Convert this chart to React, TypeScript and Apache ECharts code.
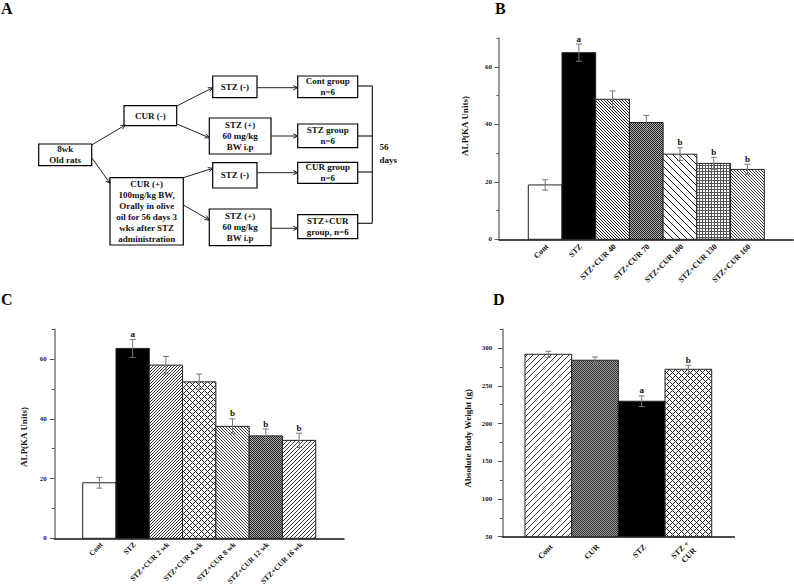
import React, { useEffect, useRef } from 'react';
import * as echarts from 'echarts';

const FONT = '"Liberation Serif", "Times New Roman", serif';

// ---------- Panel B data ----------
const bCategories = ['Cont', 'STZ', 'STZ+CUR 40', 'STZ+CUR 70', 'STZ+CUR 100', 'STZ+CUR 130', 'STZ+CUR 160'];
const bValues = [18.9, 64.9, 48.7, 40.6, 29.6, 26.4, 24.3];
const bErrors = [1.8, 3.0, 2.9, 2.5, 2.2, 2.1, 1.8];
const bSig = ['', 'a', '', '', 'b', 'b', 'b'];

// ---------- Panel C data ----------
const cCategories = ['Cont', 'STZ', 'STZ+CUR 2 wk', 'STZ+CUR 4 wk', 'STZ+CUR 8 wk', 'STZ+CUR 12 wk', 'STZ+CUR 16 wk'];
const cValues = [18.6, 63.6, 58.0, 52.4, 37.5, 34.3, 32.8];
const cErrors = [1.8, 3.0, 2.9, 2.6, 2.5, 2.3, 2.4];
const cSig = ['', 'a', '', '', 'b', 'b', 'b'];

// ---------- Panel D data ----------
const dCategories = ['Cont', 'CUR', 'STZ', 'STZ +\nCUR'];
const dValues = [291.9, 284.0, 229.6, 272.0];
const dErrors = [4.0, 4.3, 7.0, 5.3];
const dSig = ['', '', 'a', 'b'];

// ---------- Panel A (flow chart) texts ----------
const flowTexts = [
  '8wk\nOld rats',
  'CUR (-)',
  'CUR (+)\n100mg/kg BW,\nOrally in olive\noil for 56 days 3\nwks after STZ\nadministration',
  'STZ (-)',
  'STZ (+)\n60 mg/kg\nBW i.p',
  'STZ (-)',
  'STZ (+)\n60 mg/kg\nBW i.p',
  'Cont group\nn=6',
  'STZ group\nn=6',
  'CUR group\nn=6',
  'STZ+CUR\ngroup, n=6',
];
const daysText = '56\ndays';

// layout of flow boxes [x, y, w, h]
const flowBoxLayout = [
  [38.7, 144, 53, 21.7],
  [124, 105.7, 52.7, 20],
  [110, 177.7, 73.3, 67.3],
  [212.7, 76, 44.3, 21.7],
  [209.3, 118, 61.7, 36],
  [212.7, 162.7, 44.3, 25.3],
  [209.3, 209, 61.7, 36.7],
  [297.7, 76, 60, 21.7],
  [297.7, 124, 60, 23.7],
  [297.7, 162.3, 60, 21],
  [297.7, 214.7, 60, 24],
];
const flowArrows = [
  [91.7, 145, 125.3, 125],
  [91.7, 157.7, 110, 183.3],
  [176.7, 106, 212.7, 87.7],
  [177.7, 124.3, 209.3, 137.7],
  [183.3, 177.7, 212.7, 168.3],
  [183.3, 205, 209.3, 220],
  [257, 87.7, 297.7, 87.7],
  [271, 136, 297.7, 136],
  [257, 172.7, 297.7, 172.7],
  [271, 228.3, 297.7, 228.3],
];

type Panel = {
  cats: string[]; vals: number[]; errs: number[]; sig: string[]; fills: string[];
  grid: { left: number; top: number; width: number; height: number };
  xMin: number; xMax: number; yMin: number; yMax: number; major: number; minor: number;
  labelMargin: number; title: string; titleX: number; titleY: number;
  labelDx: number; labelDy: number; labelSize: number;
};

const panels: Panel[] = [
  {
    cats: bCategories, vals: bValues, errs: bErrors, sig: bSig,
    fills: ['white', 'black', 'diagL3', 'check', 'diagL7', 'grid3', 'diagL3b'],
    grid: { left: 499, top: 38, width: 294.3, height: 201.3 },
    xMin: -1.369, xMax: 7.361, yMin: 0, yMax: 70, major: 20, minor: 10,
    labelMargin: 7, title: 'ALP(KA Units)', titleX: 465, titleY: 126,
    labelDx: 2, labelDy: 6, labelSize: 8,
  },
  {
    cats: cCategories, vals: cValues, errs: cErrors, sig: cSig,
    fills: ['white', 'black', 'diagR3', 'cross6', 'diagL3b', 'check', 'diagR4'],
    grid: { left: 54.3, top: 329.3, width: 289.7, height: 209 },
    xMin: -1.353, xMax: 7.349, yMin: 0, yMax: 70, major: 20, minor: 10,
    labelMargin: 7.5, title: 'ALP(KA Units)', titleX: 24, titleY: 437,
    labelDx: 2, labelDy: 5, labelSize: 7.5,
  },
  {
    cats: dCategories, vals: dValues, errs: dErrors, sig: dSig,
    fills: ['diagR6', 'check2', 'black', 'cross6'],
    grid: { left: 502.3, top: 329.3, width: 232, height: 207.4 },
    xMin: -0.986, xMax: 3.984, yMin: 50, yMax: 325, major: 50, minor: 25,
    labelMargin: 10, title: 'Absolute Body Weight (g)', titleX: 468.3, titleY: 438.3,
    labelDx: 3, labelDy: 9, labelSize: 8,
  },
];

function tile(size: number, fn: (x: number, y: number) => boolean, fg: string, bg: string) {
  const c = document.createElement('canvas');
  c.width = size;
  c.height = size;
  const ctx = c.getContext('2d')!;
  ctx.fillStyle = bg;
  ctx.fillRect(0, 0, size, size);
  ctx.fillStyle = fg;
  for (let y = 0; y < size; y++) {
    for (let x = 0; x < size; x++) {
      if (fn(x, y)) ctx.fillRect(x, y, 1, 1);
    }
  }
  return { image: c, repeat: 'repeat', imageWidth: size, imageHeight: size } as any;
}

function buildFills() {
  const m = (a: number, p: number) => ((a % p) + p) % p;
  return {
    white: '#ffffff',
    black: '#000000',
    diagL3: tile(3, (x, y) => m(x - y, 3) === 0, '#222', '#fff'),
    diagL3b: tile(3, (x, y) => m(x - y, 3) === 0, '#444', '#fff'),
    diagL7: tile(7, (x, y) => m(x - y, 7) === 0, '#222', '#fff'),
    diagR3: tile(3, (x, y) => m(x + y, 3) === 2, '#333', '#fff'),
    diagR4: tile(4, (x, y) => m(x + y, 4) === 3, '#333', '#fff'),
    diagR6: tile(6, (x, y) => m(x + y, 6) === 5, '#333', '#fff'),
    cross6: tile(6, (x, y) => m(x + y, 6) === 0 || m(x - y, 6) === 0, '#222', '#fff'),
    grid3: tile(3, (x, y) => x === 0 || y === 0, '#555', '#fff'),
    check: tile(2, (x, y) => (x + y) % 2 === 0, '#222', '#aaa'),
    check2: tile(2, (x, y) => (x + y) % 2 === 0, '#333', '#999'),
  } as Record<string, any>;
}

function buildOption() {
  const fills = buildFills();
  const txt = (size: number) => ({ fontSize: size, fontWeight: 'bold', fontFamily: FONT, fill: '#111' });

  const graphics: any[] = [];
  // Panel letters
  [['A', 1, 8.5], ['B', 495, 8], ['C', 1, 299], ['D', 493, 299.5]].forEach(([t, x, y]) => {
    graphics.push({ type: 'text', x, y, silent: true, style: { text: t, ...txt(16), fill: '#000', align: 'left', verticalAlign: 'middle' } });
  });
  // Axis titles
  panels.forEach((p) => {
    graphics.push({
      type: 'text', x: p.titleX, y: p.titleY, rotation: Math.PI / 2, silent: true,
      style: { text: p.title, ...txt(9), align: 'center', verticalAlign: 'middle' },
    });
  });
  // Flow chart boxes
  flowBoxLayout.forEach(([x, y, w, h], i) => {
    graphics.push({ type: 'rect', silent: true, shape: { x, y, width: w, height: h }, style: { fill: '#fff', stroke: '#000', lineWidth: 1.2 } });
    graphics.push({
      type: 'text', x: x + w / 2, y: y + h / 2, silent: true,
      style: { text: flowTexts[i], ...txt(9), align: 'center', verticalAlign: 'middle', lineHeight: 11 },
    });
  });
  // Arrows
  flowArrows.forEach(([x1, y1, x2, y2]) => {
    graphics.push({ type: 'line', silent: true, shape: { x1, y1, x2, y2 }, style: { stroke: '#222', lineWidth: 1 } });
    const a = Math.atan2(y2 - y1, x2 - x1);
    const L = 5, s = 0.45;
    graphics.push({
      type: 'polyline', silent: true,
      shape: { points: [[x2 - L * Math.cos(a - s), y2 - L * Math.sin(a - s)], [x2, y2], [x2 - L * Math.cos(a + s), y2 - L * Math.sin(a + s)]] },
      style: { stroke: '#222', lineWidth: 1, fill: 'none' },
    });
  });
  // Bracket
  const bx = 372.3;
  graphics.push({ type: 'line', silent: true, shape: { x1: bx, y1: 86, x2: bx, y2: 223.3 }, style: { stroke: '#222', lineWidth: 1.2 } });
  [86, 136, 172, 223.3].forEach((yy) => {
    graphics.push({ type: 'line', silent: true, shape: { x1: 357.7, y1: yy, x2: bx, y2: yy }, style: { stroke: '#222', lineWidth: 1.2 } });
  });
  graphics.push({ type: 'text', x: 379.5, y: 153.5, silent: true, style: { text: daysText, ...txt(9), align: 'left', verticalAlign: 'middle', lineHeight: 13 } });

  const option: any = {
    animation: false,
    backgroundColor: '#ffffff',
    grid: panels.map((p) => ({ ...p.grid, containLabel: false })),
    xAxis: panels.map((p, i) => ({
      type: 'value', gridIndex: i, min: p.xMin, max: p.xMax,
      axisLine: { show: true, onZero: false, lineStyle: { color: '#111', width: 1.5 } },
      axisTick: { show: false }, axisLabel: { show: false }, splitLine: { show: false },
    })),
    yAxis: panels.flatMap((p, i) => [
      {
        type: 'value', gridIndex: i, position: 'left', min: p.yMin, max: p.yMax, interval: p.major,
        axisLine: { show: true, onZero: false, lineStyle: { color: '#777', width: 1.5 } },
        axisTick: { show: true, length: 4.5, lineStyle: { color: '#555', width: 1 } },
        axisLabel: { show: true, margin: p.labelMargin, fontSize: 7, fontWeight: 'bold', fontFamily: FONT, color: '#222', showMaxLabel: false },
        splitLine: { show: false },
      },
      {
        type: 'value', gridIndex: i, position: 'left', min: p.yMin, max: p.yMax, interval: p.minor,
        axisLine: { show: false, onZero: false },
        axisTick: { show: true, length: 2.5, lineStyle: { color: '#555', width: 1 } },
        axisLabel: { show: false }, splitLine: { show: false },
      },
    ]),
    series: panels.map((p, i) => ({
      type: 'custom', xAxisIndex: i, yAxisIndex: 2 * i, clip: false, silent: true,
      data: p.vals.map((v, j) => [j, v, p.errs[j]]),
      renderItem: (params: any, api: any) => {
        const j = params.dataIndex;
        const xi = api.value(0);
        const v = api.value(1);
        const e = api.value(2);
        const tl = api.coord([xi - 0.5, v]);
        const br = api.coord([xi + 0.5, p.yMin]);
        const top = api.coord([xi, v + e]);
        const low = api.coord([xi, v - e]);
        const cx = top[0];
        const children: any[] = [
          { type: 'rect', shape: { x: tl[0], y: tl[1], width: br[0] - tl[0], height: br[1] - tl[1] }, style: { fill: fills[p.fills[j]], stroke: '#222', lineWidth: 1 } },
          { type: 'line', shape: { x1: cx, y1: top[1], x2: cx, y2: low[1] }, style: { stroke: '#777', lineWidth: 1 } },
          { type: 'line', shape: { x1: cx - 3, y1: top[1], x2: cx + 3, y2: top[1] }, style: { stroke: '#777', lineWidth: 1 } },
          { type: 'line', shape: { x1: cx - 3, y1: low[1], x2: cx + 3, y2: low[1] }, style: { stroke: '#777', lineWidth: 1 } },
          {
            type: 'text', x: cx + p.labelDx, y: br[1] + p.labelDy, rotation: Math.PI / 4,
            style: { text: p.cats[j], ...txt(p.labelSize), align: 'right', verticalAlign: 'middle', lineHeight: p.labelSize + 2 },
          },
        ];
        if (p.sig[j]) {
          children.push({ type: 'text', x: cx, y: top[1] - 5.5, style: { text: p.sig[j], ...txt(9), align: 'center', verticalAlign: 'middle' } });
        }
        return { type: 'group', children };
      },
    })),
    graphic: { elements: graphics },
  };
  return option;
}

export default function App() {
  const ref = useRef<HTMLDivElement>(null);
  useEffect(() => {
    if (!ref.current) return;
    const chart = echarts.init(ref.current, null, { renderer: 'svg' });
    chart.setOption(buildOption());
    return () => chart.dispose();
  }, []);
  return (
    <div
      ref={ref}
      style={{ position: 'absolute', left: 0, top: 0, width: 794, height: 588, background: '#fff' }}
    />
  );
}
